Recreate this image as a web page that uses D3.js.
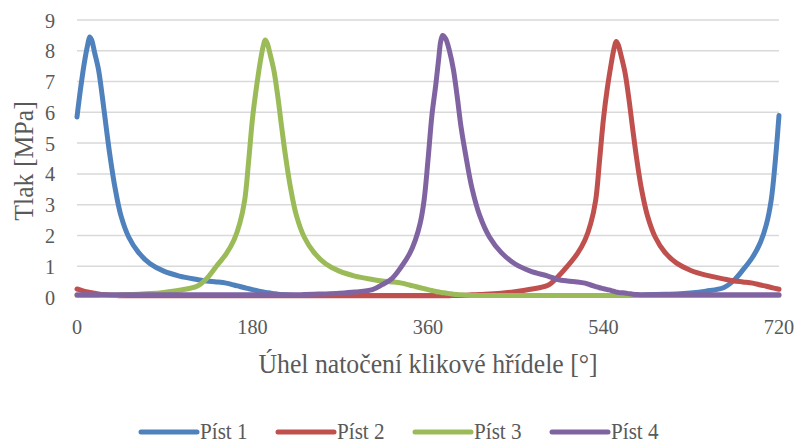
<!DOCTYPE html>
<html>
<head>
<meta charset="utf-8">
<script src="https://cdn.jsdelivr.net/npm/d3@7"></script>
<style>
  body { margin: 0; background: #fff; }
</style>
</head>
<body>
<svg width="798" height="444"></svg>
<script>
// crank angle [deg] - denser around the pressure peaks
const angle = [0, 4, 8, 11, 13, 15, 18, 22, 26, 30, 34, 39, 45, 53, 63, 75, 89, 105, 123,
  133, 143, 153, 161, 167, 172, 176, 180, 184, 188, 191, 193, 195, 198, 202, 206, 210, 214, 219, 225, 233, 243, 255, 269, 285, 303,
  313, 323, 333, 341, 347, 352, 356, 360, 364, 368, 371, 373, 375, 378, 382, 386, 390, 394, 399, 405, 413, 423, 435, 449, 465, 483,
  493, 503, 513, 521, 527, 532, 536, 540, 544, 548, 551, 553, 555, 558, 562, 566, 570, 574, 579, 585, 593, 603, 615, 629, 645, 663,
  673, 683, 693, 701, 707, 712, 716, 720];

// pressure [MPa]
const pist1 = [5.85, 6.85, 7.7, 8.2, 8.45, 8.35, 7.95, 7.4, 6.5, 5.5, 4.55, 3.55, 2.65, 1.95, 1.45, 1.08, 0.84, 0.68, 0.57,
  0.52, 0.49, 0.45, 0.39, 0.34, 0.3, 0.27, 0.24, 0.21, 0.18, 0.16, 0.15, 0.14, 0.13, 0.11, 0.09, 0.08, 0.07, 0.06, 0.05, 0.05, 0.05, 0.05, 0.05, 0.05, 0.05,
  0.05, 0.05, 0.05, 0.05, 0.05, 0.05, 0.05, 0.05, 0.05, 0.05, 0.05, 0.05, 0.05, 0.05, 0.05, 0.05, 0.05, 0.05, 0.05, 0.05, 0.05, 0.05, 0.05, 0.05, 0.05, 0.05,
  0.05, 0.05, 0.05, 0.05, 0.05, 0.05, 0.05, 0.05, 0.05, 0.05, 0.05, 0.05, 0.05, 0.05, 0.05, 0.06, 0.06, 0.06, 0.06, 0.07, 0.08, 0.09, 0.1, 0.13, 0.19, 0.3,
  0.52, 0.88, 1.3, 1.78, 2.35, 3.15, 4.35, 5.9];

const pist2 = [0.26, 0.22, 0.18, 0.16, 0.15, 0.14, 0.12, 0.1, 0.08, 0.07, 0.06, 0.05, 0.04, 0.04, 0.04, 0.04, 0.04, 0.04, 0.04,
  0.04, 0.04, 0.04, 0.04, 0.04, 0.04, 0.04, 0.04, 0.04, 0.04, 0.04, 0.04, 0.04, 0.04, 0.04, 0.04, 0.04, 0.04, 0.04, 0.04, 0.04, 0.04, 0.04, 0.04, 0.04, 0.04,
  0.04, 0.04, 0.04, 0.04, 0.04, 0.04, 0.04, 0.04, 0.04, 0.04, 0.04, 0.04, 0.04, 0.04, 0.04, 0.05, 0.05, 0.05, 0.06, 0.07, 0.08, 0.1, 0.12, 0.17, 0.25, 0.38,
  0.65, 1.0, 1.4, 1.85, 2.4, 3.15, 4.45, 5.8, 6.8, 7.6, 8.1, 8.3, 8.2, 7.85, 7.3, 6.45, 5.45, 4.5, 3.5, 2.65, 1.95, 1.45, 1.1, 0.87, 0.71, 0.59,
  0.53, 0.49, 0.45, 0.39, 0.35, 0.31, 0.28, 0.25];

const pist3 = [0.05, 0.05, 0.05, 0.05, 0.05, 0.05, 0.05, 0.05, 0.06, 0.06, 0.06, 0.06, 0.07, 0.08, 0.09, 0.11, 0.15, 0.22, 0.35,
  0.6, 1.0, 1.4, 1.85, 2.4, 3.15, 4.4, 5.8, 6.8, 7.65, 8.15, 8.35, 8.25, 7.9, 7.35, 6.5, 5.5, 4.55, 3.55, 2.65, 1.95, 1.45, 1.08, 0.84, 0.68, 0.57,
  0.52, 0.49, 0.45, 0.39, 0.34, 0.3, 0.27, 0.24, 0.21, 0.18, 0.16, 0.15, 0.14, 0.13, 0.11, 0.09, 0.08, 0.07, 0.06, 0.05, 0.05, 0.05, 0.05, 0.05, 0.05, 0.05,
  0.05, 0.05, 0.05, 0.05, 0.05, 0.05, 0.05, 0.05, 0.05, 0.05, 0.05, 0.05, 0.05, 0.05, 0.05, 0.05, 0.05, 0.05, 0.05, 0.05, 0.05, 0.05, 0.05, 0.05, 0.05, 0.05,
  0.05, 0.05, 0.05, 0.05, 0.05, 0.05, 0.05, 0.05];

const pist4 = [0.07, 0.07, 0.07, 0.07, 0.07, 0.07, 0.07, 0.07, 0.07, 0.07, 0.07, 0.07, 0.07, 0.07, 0.07, 0.07, 0.07, 0.07, 0.07,
  0.07, 0.07, 0.07, 0.07, 0.07, 0.07, 0.07, 0.07, 0.07, 0.07, 0.07, 0.07, 0.07, 0.07, 0.07, 0.07, 0.07, 0.07, 0.07, 0.07, 0.08, 0.09, 0.1, 0.12, 0.16, 0.24, 0.4,
  0.6, 1.0, 1.4, 1.85, 2.4, 3.15, 4.45, 5.9, 6.9, 7.75, 8.3, 8.5, 8.4, 8.0, 7.4, 6.5, 5.5, 4.55, 3.55, 2.65, 1.95, 1.45, 1.08, 0.84, 0.68, 0.57,
  0.52, 0.49, 0.45, 0.39, 0.34, 0.3, 0.27, 0.24, 0.21, 0.18, 0.16, 0.15, 0.14, 0.13, 0.11, 0.09, 0.08, 0.07, 0.07, 0.07, 0.07, 0.07, 0.07, 0.07, 0.07, 0.07,
  0.07, 0.07, 0.07, 0.07, 0.07, 0.07, 0.07, 0.07];

const seriesNames = ['Píst 1', 'Píst 2', 'Píst 3', 'Píst 4'];
const colors = ['#4f81bd', '#c0504d', '#9bbb59', '#8064a2'];
const xTicks = [0, 180, 360, 540, 720];
const yTicks = [0, 1, 2, 3, 4, 5, 6, 7, 8, 9];

const svg = d3.select('svg');
const x = d3.scaleLinear().domain([0, 720]).range([77, 779]);
const y = d3.scaleLinear().domain([0, 9]).range([297, 20]);
const sx = 0.92; // text in the picture is a bit narrow

// text helper, squeezes glyphs horizontally around the anchor point
function label(tx, ty, str, size, anchor, rot) {
  svg.append('text')
    .attr('transform', `translate(${tx},${ty})` + (rot ? ` rotate(${rot})` : '') + ` scale(${sx},1)`)
    .attr('text-anchor', anchor)
    .attr('font-family', 'Liberation Serif, DejaVu Serif, serif')
    .attr('font-size', size)
    .attr('fill', '#595959')
    .text(str);
}

// gridlines
svg.append('g')
  .selectAll('line')
  .data(yTicks)
  .enter()
  .append('line')
  .attr('x1', x(0))
  .attr('x2', x(720))
  .attr('y1', d => y(d))
  .attr('y2', d => y(d))
  .attr('stroke', '#d9d9d9')
  .attr('stroke-width', 1.5);

yTicks.forEach(t => label(55, y(t) + 7.5, t, 22, 'end'));
xTicks.forEach(t => label(x(t), 334, t, 22, 'middle'));

label(428, 373, 'Úhel natočení klikové hřídele [°]', 28, 'middle');
label(33, 161, 'Tlak [MPa]', 28, 'middle', -90);

// the curves
const line = d3.line()
  .x((d, i) => x(angle[i]))
  .y(d => y(d))
  .curve(d3.curveCatmullRom.alpha(0.5));

[pist1, pist2, pist3, pist4].forEach((s, i) => {
  svg.append('path')
    .datum(s)
    .attr('d', line)
    .attr('fill', 'none')
    .attr('stroke', colors[i])
    .attr('stroke-width', 5)
    .attr('stroke-linejoin', 'round')
    .attr('stroke-linecap', 'round');
});

// legend
seriesNames.forEach((name, i) => {
  const lx = 141 + i * 137;
  svg.append('line')
    .attr('x1', lx)
    .attr('x2', lx + 56)
    .attr('y1', 432)
    .attr('y2', 432)
    .attr('stroke', colors[i])
    .attr('stroke-width', 5)
    .attr('stroke-linecap', 'round');
  label(lx + 59, 439, name, 23, 'start');
});
</script>
</body>
</html>
